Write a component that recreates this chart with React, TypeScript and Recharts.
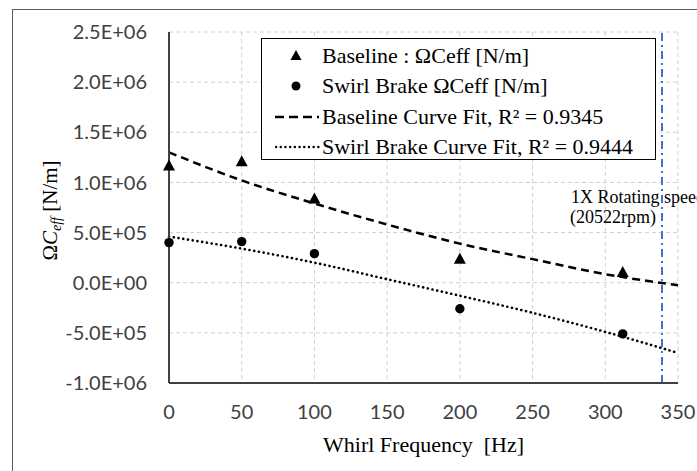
import React from "react";
import {
  ComposedChart,
  Line,
  Scatter,
  XAxis,
  YAxis,
  CartesianGrid,
  ReferenceLine,
} from "recharts";

// ---- data ----
const freq = [0, 50, 100, 200, 312];
const baselineCeff = [1170000, 1210000, 840000, 240000, 107000];
const swirlCeff = [400000, 410000, 290000, -260000, -510000];

const fitFreq = [0, 50, 100, 150, 200, 250, 300, 350];
const baselineFit = [1300000, 1020000, 790000, 580000, 390000, 235000, 85000, -25000];
const swirlFit = [460000, 340000, 200000, 35000, -130000, -300000, -490000, -700000];

const xTicks = [0, 50, 100, 150, 200, 250, 300, 350];
const yTicks = [-1000000, -500000, 0, 500000, 1000000, 1500000, 2000000, 2500000];
const rotatingSpeedHz = 339;

const legendItems = [
  { key: "tri", label: "Baseline : \u03A9Ceff [N/m]" },
  { key: "dot", label: "Swirl Brake \u03A9Ceff [N/m]" },
  { key: "dash", label: "Baseline Curve Fit, R\u00B2 = 0.9345" },
  { key: "dotted", label: "Swirl Brake Curve Fit, R\u00B2 = 0.9444" },
];

// ---- tables built from the arrays ----
const baselinePts = freq.map((f, i) => ({ x: f, y: baselineCeff[i] }));
const swirlPts = freq.map((f, i) => ({ x: f, y: swirlCeff[i] }));
const baselineFitPts = fitFreq.map((f, i) => ({ x: f, y: baselineFit[i] }));
const swirlFitPts = fitFreq.map((f, i) => ({ x: f, y: swirlFit[i] }));

const SERIF = "'Liberation Serif', 'Times New Roman', serif";
const SANS = "Lato, 'Open Sans', sans-serif";

const fmtSci = (v: number) => {
  if (v === 0) return "0.0E+00";
  const sign = v < 0 ? "-" : "";
  const a = Math.abs(v);
  const e = Math.floor(Math.log10(a) + 1e-9);
  const m = a / Math.pow(10, e);
  return `${sign}${m.toFixed(1)}E+${String(e).padStart(2, "0")}`;
};

const Triangle = (props: any) => {
  const { cx, cy } = props;
  if (cx == null || cy == null) return null;
  return (
    <polygon
      points={`${cx},${cy - 6} ${cx - 6},${cy + 5} ${cx + 6},${cy + 5}`}
      fill="#000"
    />
  );
};

const Dot = (props: any) => {
  const { cx, cy } = props;
  if (cx == null || cy == null) return null;
  return <circle cx={cx} cy={cy} r={4.7} fill="#000" />;
};

const LegendIcon = ({ kind }: { kind: string }) => (
  <svg width={50} height={20} style={{ display: "block" }}>
    {kind === "tri" && <polygon points="21,4 15.5,14 26.5,14" fill="#000" />}
    {kind === "dot" && <circle cx={21} cy={10} r={4.5} fill="#000" />}
    {kind === "dash" && (
      <line x1={0} y1={10} x2={44} y2={10} stroke="#000" strokeWidth={2.5} strokeDasharray="9 5" />
    )}
    {kind === "dotted" && (
      <line
        x1={1}
        y1={10}
        x2={44}
        y2={10}
        stroke="#000"
        strokeWidth={2.4}
        strokeDasharray="0.1 4.6"
        strokeLinecap="round"
      />
    )}
  </svg>
);

const App = () => {
  return (
    <div
      style={{
        position: "fixed",
        left: 0,
        top: 0,
        width: 697,
        height: 471,
        overflow: "hidden",
        background: "#fff",
      }}
    >
      <div
        style={{
          position: "absolute",
          left: 12,
          top: 9,
          width: 720,
          height: 500,
          border: "1.5px solid #5a5a5a",
        }}
      />
      <div style={{ position: "absolute", left: 0, top: 0 }}>
        <ComposedChart
          width={697}
          height={471}
          margin={{ top: 32, right: 19, bottom: 28, left: 69 }}
        >
          <CartesianGrid stroke="#d0d0d0" strokeDasharray="4 3" strokeWidth={1} />
          <XAxis
            dataKey="x"
            type="number"
            domain={[0, 350]}
            ticks={xTicks}
            height={60}
            tickLine={false}
            tickSize={0}
            tickMargin={22}
            axisLine={{ stroke: "#404040", strokeWidth: 2 }}
            tick={{ fill: "#404040", fontSize: 20, fontFamily: SANS }}
            label={{
              content: (p: any) => {
                const vb = p.viewBox || {};
                return (
                  <text
                    x={vb.x + vb.width / 2}
                    y={vb.y + 69}
                    textAnchor="middle"
                    fontFamily={SERIF}
                    fontSize={22}
                    fill="#000"
                    style={{ whiteSpace: "pre" }}
                  >
                    {"Whirl Frequency  [Hz]"}
                  </text>
                );
              },
            }}
          />
          <YAxis
            type="number"
            domain={[-1000000, 2500000]}
            ticks={yTicks}
            width={100}
            tickLine={false}
            tickSize={0}
            tickMargin={22}
            tickFormatter={fmtSci}
            axisLine={{ stroke: "#404040", strokeWidth: 2 }}
            tick={{ fill: "#404040", fontSize: 20, fontFamily: SANS }}
            label={{
              content: (p: any) => {
                const vb = p.viewBox || {};
                const tx = vb.x - 12;
                const ty = vb.y + vb.height / 2 + 3;
                return (
                  <text
                    x={tx}
                    y={ty}
                    textAnchor="middle"
                    fontFamily={SERIF}
                    fontSize={21}
                    fill="#000"
                    transform={`rotate(-90, ${tx}, ${ty})`}
                  >
                    {"\u03A9"}
                    <tspan fontStyle="italic">C</tspan>
                    <tspan fontStyle="italic" fontSize={14} dy={4}>
                      eff
                    </tspan>
                    <tspan dy={-4}>{" [N/m]"}</tspan>
                  </text>
                );
              },
            }}
          />
          <ReferenceLine
            x={rotatingSpeedHz}
            stroke="#4472C4"
            strokeWidth={2}
            strokeDasharray="8 4 2 4"
            label={{
              content: (p: any) => {
                const vb = p.viewBox || {};
                const lx = vb.x;
                return (
                  <g>
                    <text
                      x={lx - 91}
                      y={vb.y + 171}
                      fontFamily={SERIF}
                      fontSize={18}
                      fill="#000"
                    >
                      1X Rotating speed
                    </text>
                    <text
                      x={lx - 92}
                      y={vb.y + 191}
                      fontFamily={SERIF}
                      fontSize={18}
                      fill="#000"
                    >
                      (20522rpm)
                    </text>
                  </g>
                );
              },
            }}
          />
          <Line
            data={baselineFitPts}
            dataKey="y"
            type="monotone"
            dot={false}
            activeDot={false}
            stroke="#000"
            strokeWidth={2.5}
            strokeDasharray="8 5"
            isAnimationActive={false}
          />
          <Line
            data={swirlFitPts}
            dataKey="y"
            type="monotone"
            dot={false}
            activeDot={false}
            stroke="#000"
            strokeWidth={2.6}
            strokeDasharray="0.1 4.7"
            strokeLinecap="round"
            isAnimationActive={false}
          />
          <Scatter data={baselinePts} dataKey="y" shape={Triangle} isAnimationActive={false} />
          <Scatter data={swirlPts} dataKey="y" shape={Dot} isAnimationActive={false} />
        </ComposedChart>
      </div>
      <div
        style={{
          position: "absolute",
          left: 261,
          top: 38,
          width: 395,
          height: 122,
          boxSizing: "border-box",
          border: "1.5px solid #000",
          background: "#fff",
          paddingTop: 2,
        }}
      >
        {legendItems.map((it) => (
          <div
            key={it.key}
            style={{
              display: "flex",
              alignItems: "center",
              height: 30.3,
              fontFamily: SERIF,
              fontSize: 22,
              color: "#000",
              whiteSpace: "nowrap",
            }}
          >
            <div style={{ width: 13 }} />
            <LegendIcon kind={it.key} />
            <span style={{ marginLeft: -3 }}>{it.label}</span>
          </div>
        ))}
      </div>
    </div>
  );
};

export default App;
